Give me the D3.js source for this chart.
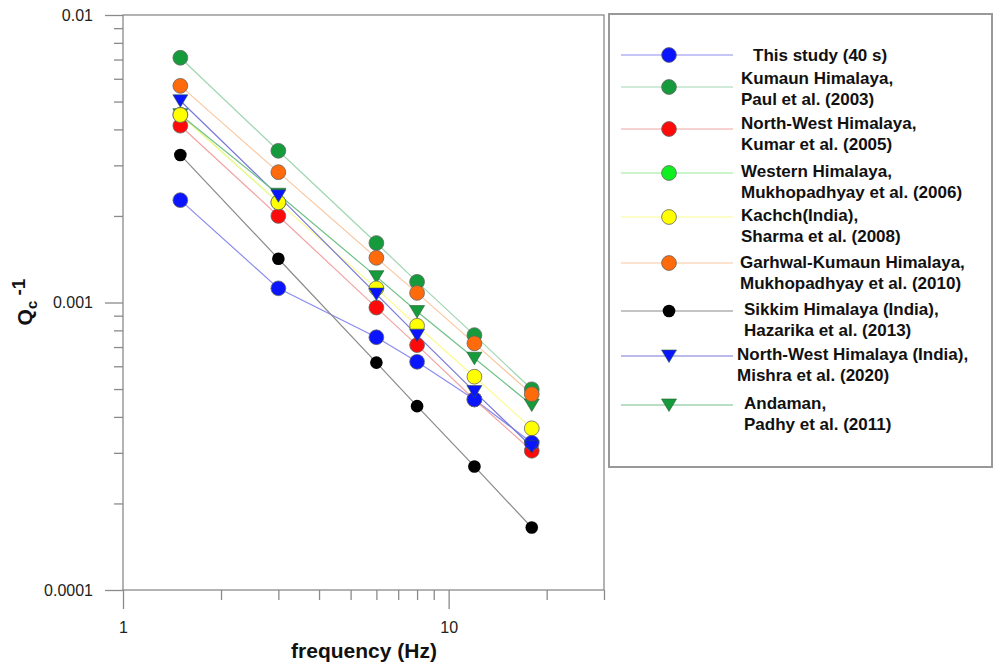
<!DOCTYPE html>
<html>
<head>
<meta charset="utf-8">
<script src="https://cdn.jsdelivr.net/npm/d3@7"></script>
<style>
  body { margin: 0; background: #fff; }
  svg { font-family: "Liberation Sans", Arial, sans-serif; }
</style>
</head>
<body>
<svg id="chart" width="994" height="666"></svg>
<script>
// frequencies (Hz) and Qc^-1 values
var freqs = [1.5, 3, 6, 8, 12, 18];
var freqsWestern = [1.5, 3];

var thisStudy = [0.00227, 0.00112, 0.000757, 0.000622, 0.00046, 0.000325];
var kumaun    = [0.0071, 0.00337, 0.00161, 0.00118, 0.00077, 0.000499];
var nwKumar   = [0.00412, 0.0020, 0.00096, 0.000711, 0.00046, 0.000305];
var western   = [0.0045, 0.00223];
var kachch    = [0.00449, 0.00223, 0.00112, 0.00083, 0.000552, 0.000365];
var garhwal   = [0.00567, 0.00284, 0.00143, 0.00108, 0.000721, 0.00048];
var sikkim    = [0.00326, 0.00142, 0.000618, 0.000436, 0.000269, 0.000165];
var nwMishra  = [0.00503, 0.00235, 0.00107, 0.00077, 0.00049, 0.000315];
var andaman   = [0.0045, 0.00238, 0.00123, 0.00093, 0.00064, 0.00044];

var yMajor = [0.0001, 0.001, 0.01];
var xMajor = [1, 10];

var series = [
  {name: ["This study (40 s)"], f: freqs, v: thisStudy, fill: "#0a14ff", line: "#8c8cf0", shape: "circle", tx: 753},
  {name: ["Kumaun Himalaya,", "Paul et al. (2003)"], f: freqs, v: kumaun, fill: "#159a3c", line: "#9fd6b0", shape: "circle", tx: 741},
  {name: ["North-West Himalaya,", "Kumar et al. (2005)"], f: freqs, v: nwKumar, fill: "#ff0a0a", line: "#f2a4a4", shape: "circle", tx: 741},
  {name: ["Western Himalaya,", "Mukhopadhyay et al. (2006)"], f: freqsWestern, v: western, fill: "#10f020", line: "#96ec96", shape: "circle", tx: 741},
  {name: ["Kachch(India),", "Sharma et al. (2008)"], f: freqs, v: kachch, fill: "#ffff00", line: "#fbfb90", shape: "circle", tx: 741},
  {name: ["Garhwal-Kumaun Himalaya,", "Mukhopadhyay et al. (2010)"], f: freqs, v: garhwal, fill: "#ff6a0a", line: "#f8c8a2", shape: "circle", tx: 740},
  {name: ["Sikkim Himalaya (India),", "Hazarika et al. (2013)"], f: freqs, v: sikkim, fill: "#000000", line: "#8a8a8a", shape: "dot", tx: 744},
  {name: ["North-West Himalaya (India),", "Mishra et al. (2020)"], f: freqs, v: nwMishra, fill: "#0a14ff", line: "#7878d8", shape: "tri", tx: 737},
  {name: ["Andaman,", "Padhy et al. (2011)"], f: freqs, v: andaman, fill: "#159a3c", line: "#70c088", shape: "tri", tx: 744}
];

// legend row layout (marker y, first text line y)
var legendRows = [[55, 55], [87, 78], [129, 123], [173, 171], [217, 215], [263, 262], [311, 309], [356, 354], [405, 403]];

var svg = d3.select("#chart");
var pLeft = 123, pRight = 604, pTop = 15, pBottom = 590;

var x = d3.scaleLog().domain([1, 30]).range([pLeft, pRight]);
var y = d3.scaleLog().domain([0.0001, 0.01]).range([pBottom, pTop]);

var axisColor = "#8a8a8a";

// minor ticks
var yMinor = [];
[0.0001, 0.001].forEach(function(d) { for (var k = 2; k <= 9; k++) yMinor.push(d * k); });
var xMinor = [2, 3, 4, 5, 6, 7, 8, 9, 20, 30];

var gy1 = svg.append("g").attr("transform", "translate(" + pLeft + ",0)")
  .call(d3.axisLeft(y).tickValues(yMinor).tickSize(9).tickFormat(""));
var gy2 = svg.append("g").attr("transform", "translate(" + pLeft + ",0)")
  .call(d3.axisLeft(y).tickValues(yMajor).tickSize(18).tickPadding(12)
    .tickFormat(function(d) { return d == 0.01 ? "0.01" : d == 0.001 ? "0.001" : "0.0001"; }));
var gx1 = svg.append("g").attr("transform", "translate(0," + pBottom + ")")
  .call(d3.axisBottom(x).tickValues(xMinor).tickSize(10).tickFormat(""));
var gx2 = svg.append("g").attr("transform", "translate(0," + pBottom + ")")
  .call(d3.axisBottom(x).tickValues(xMajor).tickSize(19).tickPadding(13).tickFormat(d3.format("d")));

[gy1, gy2, gx1, gx2].forEach(function(g) {
  g.select(".domain").remove();
  g.selectAll("line").attr("stroke", axisColor).attr("stroke-width", 1.3);
  g.selectAll("text").attr("fill", "#222").style("font-size", "16px");
});

// frame
svg.append("rect").attr("x", pLeft).attr("y", pTop)
  .attr("width", pRight - pLeft).attr("height", pBottom - pTop)
  .attr("fill", "none").attr("stroke", axisColor).attr("stroke-width", 1.3);

// lines
var line = d3.line().x(function(d) { return x(d[0]); }).y(function(d) { return y(d[1]); });
series.forEach(function(s) {
  var pts = s.f.map(function(f, i) { return [f, s.v[i]]; });
  svg.append("path").datum(pts).attr("d", line)
    .attr("fill", "none").attr("stroke", s.line).attr("stroke-width", 1.2);
});

function drawMarker(g, s, cx, cy) {
  if (s.shape == "tri") {
    g.append("path")
      .attr("d", "M" + (cx - 7.5) + "," + (cy - 6) + "L" + (cx + 7.5) + "," + (cy - 6) + "L" + cx + "," + (cy + 6.5) + "Z")
      .attr("fill", s.fill).attr("stroke", "#2a5a30").attr("stroke-width", 0.6);
  } else if (s.shape == "dot") {
    g.append("circle").attr("cx", cx).attr("cy", cy).attr("r", 6.3).attr("fill", s.fill);
  } else {
    g.append("circle").attr("cx", cx).attr("cy", cy).attr("r", 7.4)
      .attr("fill", s.fill).attr("stroke", "#666").attr("stroke-width", 0.8);
  }
}

// stacking order of the markers as in the figure
var order = [8, 1, 2, 3, 4, 5, 6, 0, 7];
var mg = svg.append("g");
order.forEach(function(k) {
  var s = series[k];
  s.f.forEach(function(f, i) { drawMarker(mg, s, x(f), y(s.v[i])); });
});

// axis titles
var yt = svg.append("text").attr("transform", "translate(32,302) rotate(-90)")
  .attr("text-anchor", "middle").attr("font-weight", "bold").attr("fill", "#111");
yt.append("tspan").style("font-size", "21px").text("Q");
yt.append("tspan").style("font-size", "15px").attr("dy", 5).text("c");
yt.append("tspan").style("font-size", "19px").attr("dy", -12).text(" -1");

svg.append("text").attr("x", 364).attr("y", 658).attr("text-anchor", "middle")
  .attr("font-weight", "bold").style("font-size", "21px").attr("fill", "#111")
  .text("frequency (Hz)");

// legend
svg.append("rect").attr("x", 609).attr("y", 14).attr("width", 383).attr("height", 453)
  .attr("fill", "#fff").attr("stroke", "#999").attr("stroke-width", 2);

var lg = svg.append("g");
series.forEach(function(s, i) {
  var my = legendRows[i][0], ty = legendRows[i][1];
  lg.append("line").attr("x1", 621).attr("x2", 733).attr("y1", my).attr("y2", my)
    .attr("stroke", s.line).attr("stroke-width", 1.2);
  drawMarker(lg, s, 669, my);
  s.name.forEach(function(t, j) {
    lg.append("text").attr("x", s.tx).attr("y", ty + j * 21).attr("dy", "0.36em")
      .attr("font-weight", "bold").style("font-size", "17px").attr("fill", "#111").text(t);
  });
});
</script>
</body>
</html>
